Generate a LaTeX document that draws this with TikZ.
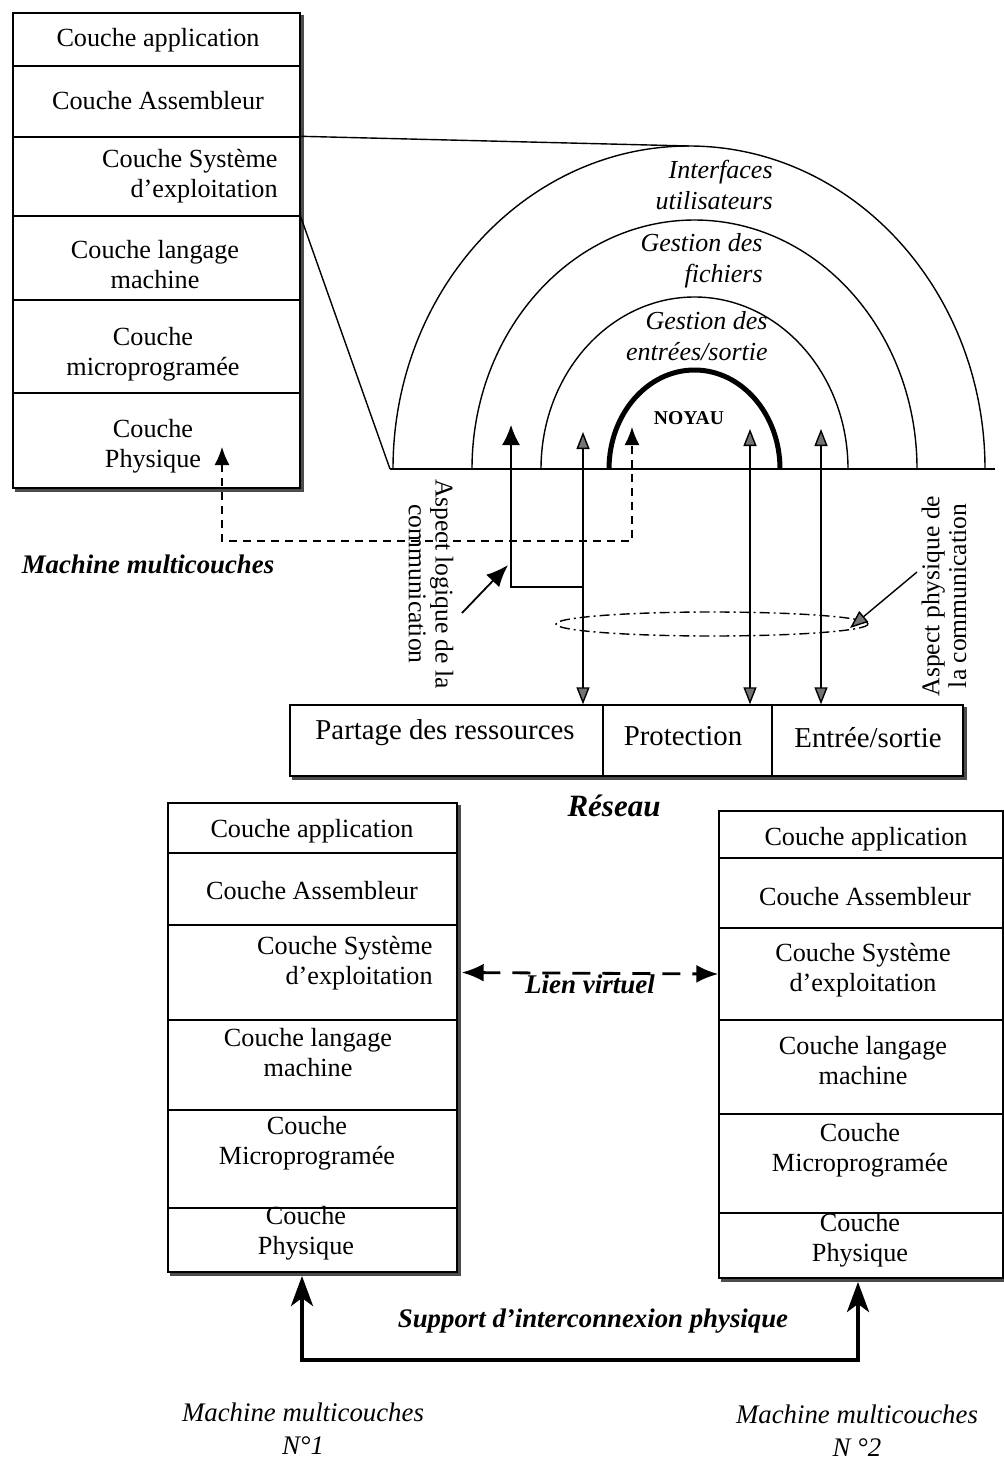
\documentclass[tikz,border=0pt]{standalone}
\usepackage{fontspec}
\setmainfont{Liberation Serif}
\usetikzlibrary{arrows.meta,shapes.geometric}
\tikzset{
  hatch/.tip={Triangle[length=8.5pt,width=6.5pt,fill=black!55]},
  blk/.tip={Latex[length=10pt,width=9pt]}
}
\begin{document}
\begin{tikzpicture}[x=0.5pt,y=-0.5pt,
  ln/.style={line width=0.7pt},
  row/.style={draw, line width=0.7pt, inner sep=0pt},
  shade/.style={draw=black!70, line width=1.5pt},
  txt/.style={font=\fontsize{13.1}{15}\selectfont, inner sep=0pt, align=center},
  rtxt/.style={font=\fontsize{14.4}{17}\selectfont, inner sep=0pt},
  itxt/.style={font=\fontsize{13}{15.5}\selectfont\itshape, inner sep=0pt, align=right},
  bitxt/.style={font=\fontsize{13.4}{16}\selectfont\bfseries\itshape, inner sep=0pt},
  vtxt/.style={font=\fontsize{12.8}{13.4}\selectfont, inner sep=0pt, align=center}
]
\useasboundingbox (0,0) rectangle (1004,1461);

% ---------- upper multilayer machine ----------
\node[row, minimum width=143.5pt, minimum height=26.5pt] (a1) at (156.5,39.5) {};
\node[row, minimum width=143.5pt, minimum height=35.5pt] (a2) at (156.5,101.5) {};
\node[row, minimum width=143.5pt, minimum height=39.5pt] (a3) at (156.5,176.5) {};
\node[row, minimum width=143.5pt, minimum height=42pt]   (a4) at (156.5,258) {};
\node[row, minimum width=143.5pt, minimum height=46.5pt] (a5) at (156.5,346.5) {};
\node[row, minimum width=143.5pt, minimum height=47.5pt] (a6) at (156.5,440.5) {};
\draw[shade] ([shift={(2,3)}]a1.north east) -- ([shift={(2,2)}]a6.south east) -- ([shift={(3,2)}]a6.south west);

\node[txt] (ta1) at (158,40) {Couche application};
\node[txt] (ta2) at (158,101) {Couche Assembleur};
\node[txt, align=right, anchor=east] (ta3) at (278,176) {Couche Système\\d’exploitation};
\node[txt] (ta4) at (155,265) {Couche langage\\machine};
\node[txt] (ta5) at (153,354) {Couche\\microprogramée};
\node[txt] (ta6) at (153,446) {Couche\\Physique};
\node[bitxt] (mm0) at (148,564) {Machine multicouches};

% ---------- layered view of the operating system ----------
\coordinate (baseL) at (390,469);
\coordinate (baseR) at (995,469);
\coordinate (otop) at (689,146);
\draw[ln] (a3.north east) -- (otop);
\draw[ln] (a3.south east) -- (baseL);
\draw[ln] (baseL) -- (baseR);
\draw[ln] (393,469) arc[start angle=180, end angle=0, x radius=148pt, y radius=161.5pt];
\draw[ln] (472,469) arc[start angle=180, end angle=0, x radius=111.25pt, y radius=124.5pt];
\draw[ln] (541,469) arc[start angle=180, end angle=0, x radius=76.75pt, y radius=86pt];
\draw[line width=2.5pt] (609,469) arc[start angle=180, end angle=0, x radius=42.75pt, y radius=49.5pt];

\node[itxt, anchor=east] (ui) at (773,185) {Interfaces\\utilisateurs};
\node[itxt, anchor=east] (gf) at (763,261) {Gestion des\\fichiers};
\node[itxt, anchor=east] (ges) at (768,336) {Gestion des\\entrées/sortie};
\node[font=\fontsize{9.8}{11}\selectfont\bfseries, inner sep=0pt] (noyau) at (689,418) {NOYAU};

% ---------- network services ----------
\node[row, minimum width=156.5pt, minimum height=35.5pt] (r1) at (446.5,740.5) {};
\node[row, minimum width=84.5pt,  minimum height=35.5pt] (r2) at (687.5,740.5) {};
\node[row, minimum width=95.5pt,  minimum height=35.5pt] (r3) at (867.5,740.5) {};
\draw[shade] ([shift={(2,3)}]r3.north east) -- ([shift={(2,2)}]r3.south east) -- ([shift={(3,2)}]r1.south west);
\node[rtxt] (tr1) at (445,733) {Partage des ressources};
\node[rtxt] (tr2) at (683,736) {Protection};
\node[rtxt] (tr3) at (868,738) {Entrée/sortie};
\node[font=\fontsize{15.5}{18}\selectfont\bfseries\itshape, inner sep=0pt] (res) at (614,806) {Réseau};

% ---------- communication arrows ----------
\coordinate (g1) at (583,432);
\coordinate (g2) at (750,429);
\coordinate (g3) at (821,429);
\draw[ln, {hatch}-{hatch}] (g1) -- (g1 |- r1.north);
\draw[ln, {hatch}-{hatch}] (g2) -- (g2 |- r2.north);
\draw[ln, {hatch}-{hatch}] (g3) -- (g3 |- r3.north);

\coordinate (logA) at (583,587);
\coordinate (logTip) at (511,425);
\draw[ln, -{blk}] (logA) -| (logTip);

\coordinate (phyTip) at (222,447);
\coordinate (noyTip) at (632,427);
\coordinate (dashY) at (0,541);
\draw[ln, dash pattern=on 4pt off 3pt, {Latex[length=9pt,width=7.5pt]}-{Latex[length=9pt,width=7.5pt]}]
  (phyTip) -- (phyTip |- dashY) -- (noyTip |- dashY) -- (noyTip);

\node[draw, ellipse, ln, dash pattern=on 5pt off 2pt on 1pt off 2pt, minimum width=156pt, minimum height=12pt, inner sep=0pt] (ring) at (712,624) {};

\node[vtxt, rotate=-90] (logLbl) at (431,584) {Aspect logique de la\\communication};
\node[vtxt, rotate=90] (phyLbl) at (944,596) {Aspect physique de\\la communication};
\coordinate (logFrom) at (462,613);
\coordinate (logTo) at (508,565);
\draw[line width=0.9pt, -{Latex[length=11pt,width=9pt]}] (logFrom) -- (logTo);
\coordinate (phyFrom) at (917,572);
\coordinate (phyTo) at (850,628);
\draw[ln, -{Triangle[length=9pt,width=7pt,fill=black!55]}] (phyFrom) -- (phyTo);

% ---------- machine N°1 ----------
\node[row, minimum width=144.5pt, minimum height=25pt]   (b1) at (312.5,828) {};
\node[row, minimum width=144.5pt, minimum height=36pt]   (b2) at (312.5,889) {};
\node[row, minimum width=144.5pt, minimum height=47.5pt] (b3) at (312.5,972.5) {};
\node[row, minimum width=144.5pt, minimum height=45pt]   (b4) at (312.5,1065) {};
\node[row, minimum width=144.5pt, minimum height=49pt]   (b5) at (312.5,1159) {};
\node[row, minimum width=144.5pt, minimum height=32pt]   (b6) at (312.5,1240) {};
\draw[shade] ([shift={(2,3)}]b1.north east) -- ([shift={(2,2)}]b6.south east) -- ([shift={(3,2)}]b6.south west);
\node[txt] (tb1) at (312,831) {Couche application};
\node[txt] (tb2) at (312,891) {Couche Assembleur};
\node[txt, align=right, anchor=east] (tb3) at (433,963) {Couche Système\\d’exploitation};
\node[txt] (tb4) at (308,1053) {Couche langage\\machine};
\node[txt] (tb5) at (307,1143) {Couche\\Microprogramée};
\node[txt] (tb6) at (306,1233) {Couche\\Physique};

% ---------- machine N°2 ----------
\node[row, minimum width=142pt, minimum height=23.5pt] (c1) at (861,834.5) {};
\node[row, minimum width=142pt, minimum height=35pt]   (c2) at (861,893) {};
\node[row, minimum width=142pt, minimum height=46pt]   (c3) at (861,974) {};
\node[row, minimum width=142pt, minimum height=47pt]   (c4) at (861,1067) {};
\node[row, minimum width=142pt, minimum height=49.5pt] (c5) at (861,1163.5) {};
\node[row, minimum width=142pt, minimum height=32.5pt] (c6) at (861,1245.5) {};
\draw[shade] ([shift={(3,2)}]c6.south west) -- ([shift={(2,2)}]c6.south east);
\node[txt] (tc1) at (866,839) {Couche application};
\node[txt] (tc2) at (865,897) {Couche Assembleur};
\node[txt] (tc3) at (863,970) {Couche Système\\d’exploitation};
\node[txt] (tc4) at (863,1061) {Couche langage\\machine};
\node[txt] (tc5) at (860,1150) {Couche\\Microprogramée};
\node[txt] (tc6) at (860,1240) {Couche\\Physique};

% ---------- links between the two machines ----------
\draw[line width=1.4pt, dash pattern=on 9pt off 6pt, {Latex[length=11pt,width=9pt]}-{Latex[length=11pt,width=9pt]}]
  ([xshift=2pt]b3.east) -- (c3.west);
\node[bitxt, font=\fontsize{13.5}{16}\selectfont\bfseries\itshape] (lv) at (590,984) {Lien virtuel};

\coordinate (supL) at (302,1276);
\coordinate (supR) at (858,1282);
\coordinate (supY) at (0,1360);
\draw[line width=2pt, {Stealth[length=15pt,width=11pt,inset=4pt]}-{Stealth[length=15pt,width=11pt,inset=4pt]}]
  (supL) -- (supL |- supY) -- (supR |- supY) -- (supR);
\node[bitxt] (sup) at (593,1321) {Support d’interconnexion physique};

\node[font=\fontsize{13.4}{16.5}\selectfont\itshape, inner sep=0pt, align=center] (mm1) at (303,1429) {Machine multicouches\\N°1};
\node[font=\fontsize{13.4}{16.5}\selectfont\itshape, inner sep=0pt, align=center] (mm2) at (857,1431) {Machine multicouches\\N °2};
\end{tikzpicture}
\end{document}
